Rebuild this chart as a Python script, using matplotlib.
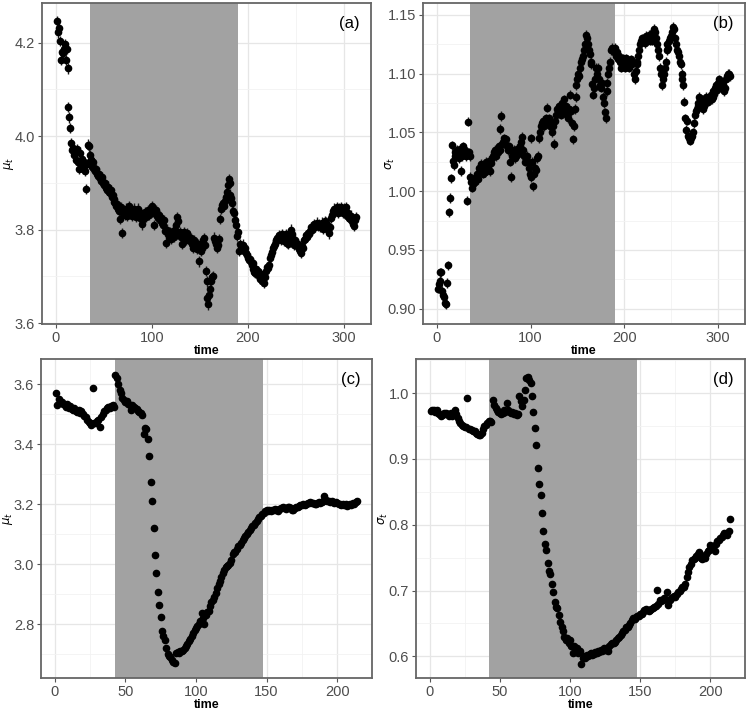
import numpy as np
import matplotlib
matplotlib.use("Agg")
import matplotlib.pyplot as plt
from matplotlib.ticker import MultipleLocator, FormatStrFormatter

plt.rcParams.update({
    "font.family": ["Liberation Sans", "DejaVu Sans"],
    "font.size": 10,
    "mathtext.fontset": "dejavusans",
})

# ── data ────────────────────────────────────────────────────
mu_a = [
    4.247, 4.222, 4.231, 4.204, 4.163, 4.180, 4.178, 4.186, 4.198, 4.163,
    4.187, 4.145, 4.062, 4.040, 4.017, 3.985, 3.970, 3.975, 3.960, 3.968,
    3.950, 3.972, 3.945, 3.930, 3.965, 3.940, 3.952, 3.930, 3.945, 3.925,
    3.887, 3.940, 3.982, 3.978, 3.960, 3.950, 3.948, 3.935, 3.945, 3.930,
    3.925, 3.930, 3.918, 3.915, 3.920, 3.910, 3.905, 3.912, 3.900, 3.895,
    3.900, 3.890, 3.885, 3.892, 3.880, 3.878, 3.885, 3.870, 3.875, 3.865,
    3.860, 3.858, 3.850, 3.855, 3.845, 3.840, 3.822, 3.848, 3.793, 3.835,
    3.840, 3.832, 3.845, 3.830, 3.838, 3.850, 3.835, 3.842, 3.830, 3.838,
    3.845, 3.832, 3.828, 3.840, 3.835, 3.845, 3.830, 3.825, 3.835, 3.811,
    3.822, 3.830, 3.838, 3.828, 3.835, 3.842, 3.832, 3.840, 3.845, 3.851,
    3.838, 3.810, 3.835, 3.842, 3.830, 3.825, 3.832, 3.828, 3.820, 3.825,
    3.815, 3.810, 3.820, 3.797, 3.772, 3.800, 3.790, 3.785, 3.795, 3.780,
    3.790, 3.798, 3.785, 3.800, 3.810, 3.826, 3.818, 3.790, 3.795, 3.785,
    3.770, 3.790, 3.782, 3.795, 3.785, 3.778, 3.792, 3.785, 3.780, 3.775,
    3.782, 3.770, 3.760, 3.778, 3.772, 3.765, 3.758, 3.770, 3.732, 3.762,
    3.755, 3.760, 3.778, 3.782, 3.768, 3.711, 3.689, 3.654, 3.640, 3.660,
    3.672, 3.690, 3.698, 3.700, 3.783, 3.775, 3.770, 3.760, 3.768, 3.780,
    3.822, 3.845, 3.852, 3.858, 3.850, 3.862, 3.870, 3.880, 3.895, 3.908,
    3.900, 3.875, 3.868, 3.858, 3.840, 3.835, 3.820, 3.810, 3.786, 3.795,
    3.754, 3.770, 3.765, 3.760, 3.768, 3.755, 3.760, 3.750, 3.745, 3.740,
    3.735, 3.738, 3.730, 3.725, 3.728, 3.715, 3.710, 3.708, 3.715, 3.705,
    3.712, 3.700, 3.695, 3.705, 3.690, 3.700, 3.686, 3.698, 3.712, 3.720,
    3.718, 3.725, 3.740, 3.745, 3.752, 3.760, 3.765, 3.770, 3.778, 3.775,
    3.782, 3.780, 3.788, 3.785, 3.778, 3.790, 3.782, 3.775, 3.785, 3.790,
    3.772, 3.770, 3.778, 3.782, 3.800, 3.790, 3.775, 3.768, 3.778, 3.772,
    3.765, 3.770, 3.758, 3.762, 3.755, 3.750, 3.765, 3.760, 3.778, 3.780,
    3.788, 3.785, 3.792, 3.790, 3.798, 3.805, 3.800, 3.808, 3.812, 3.805,
    3.810, 3.815, 3.808, 3.812, 3.805, 3.810, 3.815, 3.808, 3.802, 3.812,
    3.818, 3.815, 3.808, 3.800, 3.792, 3.805, 3.825, 3.832, 3.840, 3.845,
    3.838, 3.842, 3.848, 3.835, 3.845, 3.840, 3.848, 3.842, 3.835, 3.845,
    3.840, 3.848, 3.838, 3.830, 3.835, 3.825, 3.822, 3.830, 3.818, 3.812,
    3.808, 3.820, 3.826,
]
sigma_b = [
    0.917, 0.921, 0.931, 0.924, 0.931, 0.915, 0.912, 0.910, 0.905, 0.904,
    0.922, 0.937, 0.982, 0.994, 1.011, 1.039, 1.026, 1.022, 1.033, 1.030,
    1.034, 1.035, 1.032, 1.028, 1.036, 1.017, 1.030, 1.038, 1.032, 1.035,
    1.030, 0.992, 1.059, 1.033, 1.030, 1.012, 1.008, 1.003, 1.006, 1.010,
    1.008, 1.012, 1.015, 1.010, 1.020, 1.018, 1.023, 1.022, 1.015, 1.020,
    1.016, 1.022, 1.025, 1.018, 1.020, 1.026, 1.017, 1.024, 1.028, 1.030,
    1.033, 1.035, 1.030, 1.036, 1.033, 1.038, 1.035, 1.053, 1.064, 1.040,
    1.042, 1.045, 1.040, 1.044, 1.038, 1.035, 1.038, 1.025, 1.012, 1.030,
    1.032, 1.035, 1.028, 1.033, 1.030, 1.036, 1.032, 1.034, 1.038, 1.042,
    1.046, 1.035, 1.030, 1.025, 1.028, 1.030, 1.025, 1.020, 1.015, 1.012,
    1.045, 1.025, 1.004, 1.015, 1.020, 1.018, 1.028, 1.030, 1.045, 1.050,
    1.055, 1.058, 1.060, 1.055, 1.060, 1.058, 1.062, 1.071, 1.060, 1.062,
    1.055, 1.058, 1.050, 1.055, 1.040, 1.060, 1.065, 1.070, 1.068, 1.072,
    1.070, 1.065, 1.068, 1.075, 1.070, 1.078, 1.068, 1.072, 1.065, 1.062,
    1.070, 1.082, 1.068, 1.058, 1.044, 1.055, 1.070, 1.080, 1.090, 1.095,
    1.100, 1.098, 1.105, 1.110, 1.112, 1.115, 1.120, 1.125, 1.133, 1.130,
    1.125, 1.120, 1.117, 1.110, 1.108, 1.091, 1.082, 1.088, 1.095, 1.105,
    1.100, 1.105, 1.095, 1.090, 1.088, 1.092, 1.080, 1.075, 1.067, 1.062,
    1.085, 1.092, 1.100, 1.105, 1.110, 1.120, 1.122, 1.120, 1.118, 1.122,
    1.115, 1.118, 1.112, 1.115, 1.110, 1.105, 1.108, 1.110, 1.113, 1.110,
    1.105, 1.113, 1.110, 1.108, 1.105, 1.110, 1.112, 1.108, 1.110, 1.100,
    1.095, 1.102, 1.108, 1.110, 1.115, 1.120, 1.125, 1.128, 1.130, 1.128,
    1.130, 1.126, 1.132, 1.128, 1.130, 1.133, 1.128, 1.130, 1.132, 1.128,
    1.135, 1.138, 1.135, 1.130, 1.125, 1.120, 1.115, 1.105, 1.100, 1.090,
    1.095, 1.100, 1.105, 1.110, 1.120, 1.125, 1.122, 1.128, 1.130, 1.132,
    1.135, 1.140, 1.138, 1.130, 1.125, 1.120, 1.118, 1.115, 1.110, 1.108,
    1.100, 1.095, 1.090, 1.076, 1.062, 1.052, 1.060, 1.047, 1.045, 1.043,
    1.045, 1.047, 1.050, 1.058, 1.065, 1.068, 1.070, 1.072, 1.075, 1.080,
    1.078, 1.075, 1.078, 1.070, 1.072, 1.075, 1.080, 1.078, 1.076, 1.080,
    1.078, 1.082, 1.078, 1.080, 1.085, 1.083, 1.088, 1.090, 1.086, 1.092,
    1.095, 1.090, 1.092, 1.088, 1.090, 1.085, 1.088, 1.095, 1.098, 1.100,
    1.097, 1.100, 1.098,
]
mu_c = [
    3.570, 3.530, 3.550, 3.545, 3.540, 3.535, 3.530, 3.525, 3.535, 3.520,
    3.528, 3.518, 3.515, 3.520, 3.510, 3.508, 3.515, 3.505, 3.512, 3.500,
    3.495, 3.490, 3.480, 3.475, 3.470, 3.465, 3.587, 3.472, 3.470, 3.478,
    3.480, 3.458, 3.490, 3.500, 3.510, 3.515, 3.520, 3.525, 3.520, 3.528,
    3.530, 3.525, 3.631, 3.620, 3.600, 3.580, 3.570, 3.555, 3.548, 3.540,
    3.545, 3.535, 3.530, 3.515, 3.530, 3.525, 3.520, 3.518, 3.512, 3.508,
    3.505, 3.497, 3.433, 3.455, 3.450, 3.416, 3.360, 3.274, 3.210, 3.122,
    3.030, 2.970, 2.907, 2.863, 2.823, 2.776, 2.760, 2.748, 2.720, 2.700,
    2.694, 2.690, 2.681, 2.675, 2.670, 2.703, 2.708, 2.705, 2.710, 2.712,
    2.715, 2.720, 2.728, 2.735, 2.745, 2.752, 2.760, 2.770, 2.780, 2.788,
    2.795, 2.800, 2.810, 2.838, 2.820, 2.800, 2.832, 2.840, 2.845, 2.860,
    2.875, 2.882, 2.890, 2.905, 2.920, 2.935, 2.945, 2.958, 2.970, 2.980,
    2.990, 2.995, 2.998, 3.005, 3.015, 3.035, 3.040, 3.042, 3.050, 3.060,
    3.065, 3.072, 3.080, 3.088, 3.095, 3.100, 3.108, 3.115, 3.120, 3.128,
    3.132, 3.138, 3.145, 3.152, 3.158, 3.162, 3.168, 3.172, 3.178, 3.182,
    3.178, 3.180, 3.176, 3.182, 3.180, 3.185, 3.182, 3.178, 3.185, 3.188,
    3.186, 3.190, 3.188, 3.185, 3.190, 3.192, 3.188, 3.182, 3.180, 3.186,
    3.190, 3.192, 3.195, 3.198, 3.196, 3.200, 3.198, 3.202, 3.205, 3.203,
    3.206, 3.205, 3.204, 3.200, 3.202, 3.205, 3.206, 3.205, 3.208, 3.210,
    3.228, 3.215, 3.212, 3.210, 3.208, 3.210, 3.206, 3.205, 3.208, 3.205,
    3.202, 3.200, 3.198, 3.200, 3.196, 3.200, 3.195, 3.198, 3.200, 3.196,
    3.205, 3.200, 3.208, 3.210,
]
sigma_d = [
    0.973, 0.975, 0.974, 0.972, 0.975, 0.970, 0.968, 0.965, 0.967, 0.970,
    0.968, 0.970, 0.969, 0.966, 0.970, 0.965, 0.968, 0.975, 0.968, 0.962,
    0.958, 0.954, 0.952, 0.950, 0.949, 0.948, 0.993, 0.946, 0.945, 0.944,
    0.943, 0.942, 0.940, 0.938, 0.937, 0.936, 0.940, 0.945, 0.950, 0.952,
    0.955, 0.957, 0.958, 0.956, 0.989, 0.982, 0.978, 0.975, 0.972, 0.970,
    0.968, 0.970, 0.975, 0.972, 0.985, 0.975, 0.972, 0.970, 0.972, 0.968,
    0.970, 0.967, 0.969, 0.995, 0.988, 0.980, 0.990, 1.005, 1.023, 1.025,
    1.020, 1.015, 0.996, 0.972, 0.947, 0.922, 0.886, 0.862, 0.845, 0.818,
    0.790, 0.771, 0.762, 0.742, 0.729, 0.725, 0.710, 0.698, 0.683, 0.675,
    0.673, 0.663, 0.652, 0.645, 0.638, 0.630, 0.625, 0.628, 0.620, 0.625,
    0.615, 0.605, 0.615, 0.610, 0.612, 0.605, 0.608, 0.589, 0.597, 0.600,
    0.598, 0.602, 0.600, 0.603, 0.605, 0.602, 0.604, 0.606, 0.605, 0.608,
    0.606, 0.610, 0.608, 0.612, 0.610, 0.612, 0.608, 0.615, 0.618, 0.620,
    0.620, 0.622, 0.625, 0.628, 0.630, 0.632, 0.635, 0.638, 0.640, 0.645,
    0.645, 0.648, 0.650, 0.655, 0.658, 0.657, 0.660, 0.662, 0.661, 0.665,
    0.664, 0.668, 0.670, 0.672, 0.670, 0.669, 0.671, 0.672, 0.674, 0.675,
    0.676, 0.701, 0.680, 0.685, 0.684, 0.686, 0.688, 0.687, 0.698, 0.678,
    0.685, 0.688, 0.690, 0.692, 0.690, 0.695, 0.698, 0.700, 0.702, 0.705,
    0.706, 0.710, 0.721, 0.728, 0.736, 0.740, 0.747, 0.748, 0.750, 0.752,
    0.755, 0.759, 0.750, 0.748, 0.752, 0.750, 0.755, 0.760, 0.762, 0.769,
    0.765, 0.768, 0.760, 0.770, 0.775, 0.777, 0.780, 0.782, 0.785, 0.788,
    0.786, 0.784, 0.790, 0.809,
]

# half-widths of the vertical error bars
err_a, err_b, err_c, err_d = 0.011, 0.004, 0.004, 0.004

# shaded periods (start, end)
shade_ab = (35, 190)
shade_cd = (42.5, 147.5)

panels = [
    # series, err, shade, ylabel, tag, ylim, yticks, xticks, fmt
    (mu_a, err_a, shade_ab, r"$\mu_t$", "(a)", (3.598, 4.285),
     [3.6, 3.8, 4.0, 4.2], [0, 100, 200, 300], "%.1f"),
    (sigma_b, err_b, shade_ab, r"$\sigma_t$", "(b)", (0.887, 1.160),
     [0.90, 0.95, 1.00, 1.05, 1.10, 1.15], [0, 100, 200, 300], "%.2f"),
    (mu_c, err_c, shade_cd, r"$\mu_t$", "(c)", (2.621, 3.684),
     [2.8, 3.0, 3.2, 3.4, 3.6], [0, 50, 100, 150, 200], "%.1f"),
    (sigma_d, err_d, shade_cd, r"$\sigma_t$", "(d)", (0.567, 1.052),
     [0.6, 0.7, 0.8, 0.9, 1.0], [0, 50, 100, 150, 200], "%.1f"),
]

# axes rectangles in figure fractions (left, bottom, width, height)
rects = [
    (0.056, 0.5462, 0.4387, 0.4496),
    (0.564, 0.5462, 0.4293, 0.4496),
    (0.0547, 0.0504, 0.4413, 0.4468),
    (0.5547, 0.0504, 0.4387, 0.4468),
]

W, H = 750, 714
fig = plt.figure(figsize=(W / 100, H / 100), dpi=100)

for (y, err, shade, ylab, tag, ylim, yticks, xticks, fmt), rect in zip(panels, rects):
    ax = fig.add_axes(rect)
    t = np.arange(1, len(y) + 1)
    n = len(y)
    pad = 0.05 * (n - 1)
    ax.set_xlim(1 - pad, n + pad)
    ax.set_ylim(*ylim)

    ax.set_axisbelow(True)
    ax.axvspan(shade[0], shade[1], color="#a2a2a2", zorder=1, lw=0)
    ax.errorbar(t, y, yerr=err, fmt="o", color="black", ms=4.5,
                elinewidth=1.0, ecolor="#1a1a1a", capsize=0, zorder=3)

    ax.set_xticks(xticks)
    ax.set_yticks(yticks)
    ax.yaxis.set_major_formatter(FormatStrFormatter(fmt))
    ax.xaxis.set_minor_locator(MultipleLocator((xticks[1] - xticks[0]) / 2))
    ax.yaxis.set_minor_locator(MultipleLocator((yticks[1] - yticks[0]) / 2))
    ax.grid(True, which="major", color="#e6e6e6", lw=0.9)
    ax.grid(True, which="minor", color="#f2f2f2", lw=0.6)
    ax.tick_params(which="major", length=3, pad=2, color="#555555",
                   labelsize=10.5, labelcolor="#4d4d4d")
    ax.tick_params(which="minor", length=0)
    for s in ax.spines.values():
        s.set_color("#666666")
        s.set_linewidth(1.3)

    ax.set_xlabel("time", fontsize=9, fontweight="bold", labelpad=0)
    ax.set_ylabel(ylab, fontsize=8.5)
    # y label sits ~26 px left of the panel edge
    ax.yaxis.set_label_coords(-26 / (rect[2] * W), 0.5)
    ax.text(0.965, 0.935, tag, transform=ax.transAxes, ha="right",
            va="center", fontsize=12)

plt.savefig("out.png", dpi=100)
plt.close()
